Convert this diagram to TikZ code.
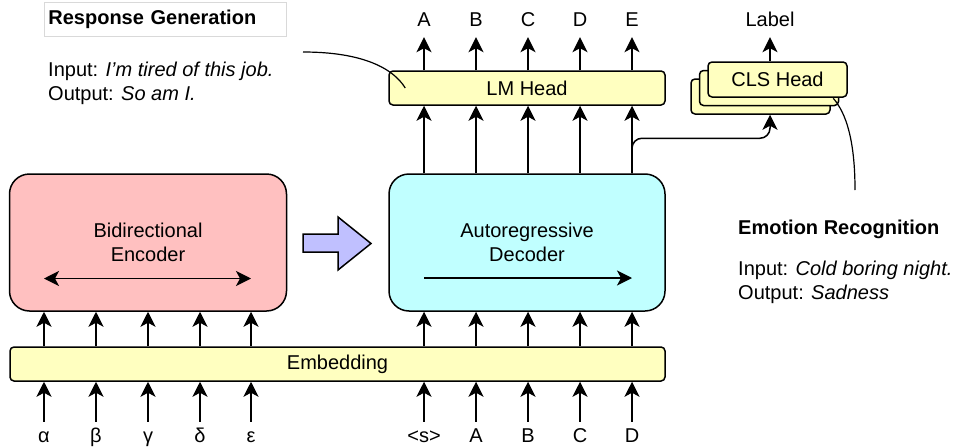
\documentclass[tikz,border=0pt]{standalone}
\usepackage{fontspec}
\setmainfont{Liberation Sans}
\definecolor{encpink}{RGB}{255,192,192}
\definecolor{deccyan}{RGB}{192,255,255}
\definecolor{headyellow}{RGB}{255,255,192}
\definecolor{flowblue}{RGB}{192,192,255}
\usetikzlibrary{arrows.meta, calc, positioning}

\begin{document}
\begin{tikzpicture}[x=1pt, y=-1pt, font=\fontsize{20}{24}\selectfont,
	blk/.style={draw, line width=1.5pt, align=center, inner sep=0pt},
	head/.style={blk, fill=headyellow, rounded corners=4pt},
	tip/.tip={Stealth[length=15pt, width=15pt, inset=4pt]},
	arr/.style={line width=1.5pt, -tip},
	tok/.style={inner xsep=2pt, inner ysep=6pt, text height=14pt, text depth=4pt}]
			\useasboundingbox (0,0) rectangle (958,447);
			
			\node[blk, fill=encpink, minimum width=277, minimum height=137, rounded corners=20pt] (enc) at (148,242.5) {Bidirectional\\Encoder};
			\node[blk, fill=deccyan, minimum width=276, minimum height=137, rounded corners=20pt] (dec) at (527,242.5) {Autoregressive\\Decoder};
			\node[head, minimum width=276, minimum height=34] (lm) at (527,88) {LM Head};
			\node[head, minimum width=655, minimum height=34] (emb) at (337.5,364) {Embedding};
			\node[head, minimum width=139, minimum height=35] (cls3) at (760.5,96.5) {};
			\node[head, minimum width=139, minimum height=35] (cls2) at (769,88) {};
			\node[head, minimum width=139, minimum height=35] (cls1) at (777.5,79.5) {CLS Head};
			
			\draw[line width=1.5pt, fill=flowblue] (303,234) -- (338,234) -- (338,217) -- (371,243.5) -- (338,270) -- (338,252) -- (303,252) -- cycle;
			
			\draw[line width=1.5pt, tip-tip] ($(enc.center)+(-104,36)$) -- ($(enc.center)+(103,36)$);
			\draw[arr] ($(dec.center)+(-103,35.5)$) -- ($(dec.center)+(105,35.5)$);
			
			\foreach \x/\t [count=\i] in {424/A,476/B,528/C,580/D,632/E} {
				\node[tok] (o\i) at (\x,22) {\t};
				\draw[arr] (lm.north -| o\i) -- (o\i);
				\draw[arr] (dec.north -| o\i) -- (lm.south -| o\i);
			}
			\foreach \x/\t [count=\i] in {44/α,96/β,148/γ,200/δ,251/ε} {
				\node[tok] (e\i) at (\x,437) {\t};
				\draw[arr] (e\i) -- (emb.south -| e\i);
				\draw[arr] (emb.north -| e\i) -- (enc.south -| e\i);
			}
			\foreach \x/\t [count=\i] in {424/<s>,476/A,528/B,580/C,632/D} {
				\node[tok] (d\i) at (\x,437) {\t};
				\draw[arr] (d\i) -- (emb.south -| d\i);
				\draw[arr] (emb.north -| d\i) -- (dec.south -| d\i);
			}
			
			\node[tok] (lab) at (770,22) {Label};
			\draw[arr] (cls1.north -| lab) -- (lab);
			\draw[arr, rounded corners=10pt] (dec.north -| o5) -- ++(0,-35) -| (cls3.south -| lab);
			
			\node[draw=black!15, line width=0.8pt, anchor=north west, text width=234pt, inner xsep=4pt, inner ysep=0pt, minimum height=34, font=\fontsize{20}{24}\selectfont\bfseries] (rg) at (44,2) {Response Generation};
			\node[below right=25pt and 4pt of rg.south west, align=left, inner sep=0pt] (rgio) {Input: \textit{I'm tired of this job.}\\Output: \textit{So am I.}};
			\coordinate (rgtail) at (303,52);
			\draw[line width=1.2pt] (rgtail) .. controls (362,52) and (393,68) .. ($(lm.west)+(17,0)$);
			
			\node[anchor=base west, inner sep=0pt, font=\fontsize{20}{24}\selectfont\bfseries] (er) at (738,234) {Emotion Recognition};
			\node[anchor=base west, align=left, inner sep=0pt] (erio) at (738,299) {Input: \textit{Cold boring night.}\\Output: \textit{Sadness}};
			\coordinate (ertail) at (855,190);
			\draw[line width=1.2pt] (ertail) .. controls (855,140) and (846,113) .. ($(cls2.south east)+(-6,-8)$);
			
		\end{tikzpicture}
\end{document}
